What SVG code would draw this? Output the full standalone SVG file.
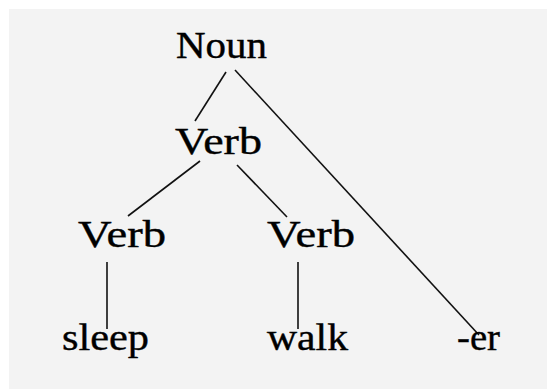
<svg xmlns="http://www.w3.org/2000/svg" width="547" height="389" viewBox="0 0 547 389">
<style>
text{font-family:"Liberation Serif","Times New Roman",serif;font-size:38px;fill:#000;stroke:#000;stroke-width:0.4}
.e line{stroke:#111;stroke-width:1.6}
</style>
<rect x="0" y="0" width="547" height="389" fill="#fff"/>
<rect x="9" y="9" width="538" height="380" fill="#f3f3f3"/>
<g class="e" id="edges">
<line x1="226" y1="72" x2="195" y2="121"/>
<line x1="235" y1="70" x2="479" y2="335"/>
<line x1="200" y1="161" x2="128" y2="216"/>
<line x1="237" y1="165" x2="287" y2="217"/>
<line x1="107" y1="262" x2="107" y2="329"/>
<line x1="298" y1="262" x2="298" y2="329"/>
</g>
<g id="noun"><text x="176" y="58" textLength="91" lengthAdjust="spacingAndGlyphs">Noun</text></g>
<g id="verb-top"><text x="175" y="154" textLength="87" lengthAdjust="spacingAndGlyphs">Verb</text></g>
<g id="verb-left"><text x="78" y="247" textLength="88" lengthAdjust="spacingAndGlyphs">Verb</text></g>
<g id="verb-right"><text x="267" y="247" textLength="88" lengthAdjust="spacingAndGlyphs">Verb</text></g>
<g id="sleep"><text x="62" y="350" textLength="87" lengthAdjust="spacingAndGlyphs">sleep</text></g>
<g id="walk"><text x="267" y="350" textLength="81" lengthAdjust="spacingAndGlyphs">walk</text></g>
<g id="er"><text x="457" y="350" textLength="43" lengthAdjust="spacingAndGlyphs">-er</text></g>
</svg>
